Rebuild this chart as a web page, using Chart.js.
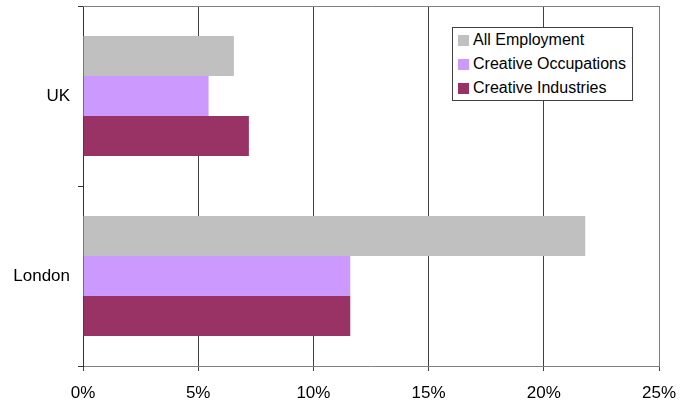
<!DOCTYPE html>
<html>
<head>
<meta charset="utf-8">
<script src="https://cdn.jsdelivr.net/npm/chart.js@4.4.1/dist/chart.umd.min.js"></script>
<style>
  body { margin: 0; background: #fff; }
  .wrap { position: relative; width: 684px; height: 403px; }
  .legend {
    position: absolute; left: 452px; top: 27px; width: 181px; height: 74px;
    box-sizing: border-box; border: 1px solid #404040; background: #fff;
    font: 16px "Liberation Sans", Arial, sans-serif; color: #000;
  }
  .legend__row { height: 24px; display: flex; align-items: center; padding-left: 5px; }
  .legend__swatch { width: 11px; height: 11px; margin-right: 4px; }
</style>
</head>
<body>
<div class="wrap">
  <canvas id="chart" width="684" height="403"></canvas>
  <div class="legend" id="legend"></div>
</div>
<script>
const categories = ["UK", "London"];
const seriesNames = ["All Employment", "Creative Occupations", "Creative Industries"];
const allEmployment = [6.55, 21.8];
const creativeOccupations = [5.45, 11.6];
const creativeIndustries = [7.2, 11.6];
const seriesColors = ["#C0C0C0", "#CC99FF", "#993366"];

const values = [allEmployment, creativeOccupations, creativeIndustries];
const datasets = seriesNames.map((name, i) => ({
  label: name,
  data: values[i],
  backgroundColor: seriesColors[i],
  borderWidth: 0,
  barPercentage: 1,
  categoryPercentage: 0.668,
}));

// gray frame on the top and right of the plot area
const plotFrame = {
  id: "plotFrame",
  afterDraw(chart) {
    const { ctx, chartArea } = chart;
    ctx.save();
    ctx.strokeStyle = "#808080";
    ctx.lineWidth = 1;
    ctx.beginPath();
    ctx.moveTo(chartArea.left, Math.round(chartArea.top) + 0.5);
    ctx.lineTo(Math.round(chartArea.right) + 0.5, Math.round(chartArea.top) + 0.5);
    ctx.lineTo(Math.round(chartArea.right) + 0.5, chartArea.bottom);
    ctx.stroke();
    ctx.restore();
  },
};

const tickFont = { family: "'Liberation Sans', Arial, sans-serif", size: 17 };

new Chart(document.getElementById("chart"), {
  type: "bar",
  data: { labels: categories, datasets },
  plugins: [plotFrame],
  options: {
    indexAxis: "y",
    responsive: false,
    animation: false,
    devicePixelRatio: 1,
    layout: { padding: { top: 6, right: 25, left: 0, bottom: 0 } },
    plugins: { legend: { display: false }, tooltip: { enabled: false } },
    scales: {
      x: {
        min: 0,
        max: 25,
        ticks: {
          stepSize: 5,
          color: "#000",
          font: tickFont,
          padding: 12,
          maxRotation: 0,
          callback: (v) => v + "%",
        },
        grid: { color: "#404040", lineWidth: 1, tickLength: 5 },
        border: { color: "#808080", width: 1 },
        afterFit: (scale) => {
          scale.height = 37;
          scale.paddingLeft = 0;
          scale.paddingRight = 0;
        },
      },
      y: {
        ticks: { color: "#000", font: tickFont, padding: 8 },
        grid: { drawOnChartArea: false, color: "#333", tickLength: 5 },
        border: { color: "#333", width: 1 },
        afterFit: (scale) => {
          scale.width = 83;
          scale.paddingTop = 0;
          scale.paddingBottom = 0;
        },
      },
    },
  },
});

document.getElementById("legend").innerHTML = seriesNames
  .map((name, i) => `<div class="legend__row"><span class="legend__swatch" style="background:${seriesColors[i]}"></span>${name}</div>`)
  .join("");
</script>
</body>
</html>
